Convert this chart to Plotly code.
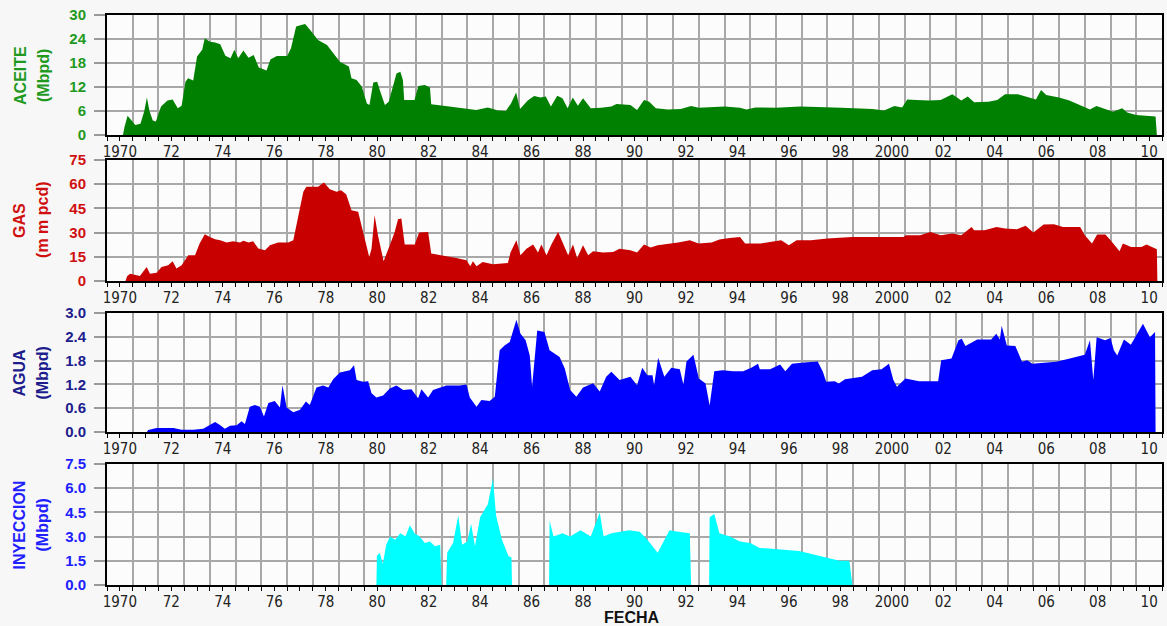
import plotly.graph_objects as go
from plotly.subplots import make_subplots

# fechas en años decimales
aceite_t = [1970.62, 1970.68, 1970.8, 1970.95, 1971.1, 1971.3, 1971.45, 1971.55, 1971.65, 1971.78,
            1971.9, 1972.1, 1972.35, 1972.55, 1972.75, 1972.9, 1973.05, 1973.15, 1973.35, 1973.5,
            1973.7, 1973.8, 1974.0, 1974.2, 1974.4, 1974.6, 1974.8, 1974.95, 1975.1, 1975.3,
            1975.5, 1975.7, 1975.9, 1976.2, 1976.35, 1976.6, 1977.0, 1977.15, 1977.35, 1977.55,
            1977.7, 1977.95, 1978.2, 1978.55, 1978.8, 1979.05, 1979.4, 1979.5, 1979.7, 1979.9,
            1980.1, 1980.2, 1980.35, 1980.5, 1980.6, 1980.8, 1980.95, 1981.1, 1981.25, 1981.4,
            1981.5, 1981.55, 1981.95, 1982.1, 1982.35, 1982.55, 1982.6, 1983.3, 1984.35, 1984.8,
            1985.2, 1985.5, 1985.7, 1985.9, 1986.05, 1986.35, 1986.6, 1986.85, 1987.05, 1987.25,
            1987.5, 1987.7, 1987.9, 1988.1, 1988.3, 1988.5, 1988.8, 1989.2, 1989.6, 1989.8,
            1990.34, 1990.6, 1990.87, 1991.07, 1991.33, 1991.8, 1992.3, 1992.7, 1993.0, 1994.0,
            1994.6, 1994.85, 1995.2, 1996.0, 1996.95, 1998.55, 1999.75, 2000.2, 2000.6, 2000.9,
            2001.1, 2001.45, 2001.95, 2002.4, 2002.85, 2003.2, 2003.45, 2003.7, 2004.25, 2004.6,
            2004.9, 2005.4, 2005.8, 2006.1, 2006.3, 2006.5, 2007.0, 2007.4, 2007.8, 2008.2,
            2008.45, 2008.85, 2009.1, 2009.45, 2009.65, 2010.0, 2010.4, 2010.75, 2010.8]
aceite_v = [0, 2.0, 4.8, 3.5, 2.5, 2.8, 6.0, 9.4, 6.0, 3.6,
            3.4, 7.1, 8.6, 8.9, 6.7, 7.3, 13.3, 14.2, 13.6, 19.6,
            21.3, 24.2, 23.3, 23.1, 22.7, 19.8, 19.2, 21.3, 19.2, 21.1,
            19.3, 20.0, 16.9, 16.1, 18.9, 19.75, 19.75, 21.7, 27.1, 27.5,
            27.75, 25.8, 23.75, 22.5, 20.4, 18.3, 17.1, 14.2, 13.75, 12.1,
            7.9, 7.5, 13.1, 13.3, 11.25, 7.5, 8.3, 11.7, 15.4, 15.8,
            13.75, 8.75, 8.75, 12.25, 12.5, 11.9, 7.7, 7.1, 6.25, 6.9,
            6.1, 6.0, 7.9, 10.6, 6.5, 8.6, 9.75, 9.4, 9.6, 7.1,
            9.8, 9.2, 6.7, 9.4, 7.3, 9.2, 6.7, 6.8, 7.1, 7.75,
            7.5, 6.25, 8.75, 8.3, 6.7, 6.4, 6.5, 7.25, 6.8, 7.1,
            6.8, 6.4, 6.9, 6.8, 7.1, 6.8, 6.5, 6.1, 7.25, 6.9,
            8.9, 8.75, 8.6, 8.75, 10.2, 8.6, 9.6, 8.2, 8.3, 8.75,
            10.2, 10.2, 9.4, 8.9, 11.25, 10.0, 9.4, 8.6, 7.5, 6.4,
            7.25, 6.4, 5.8, 6.7, 5.6, 5.0, 4.75, 4.6, 0]

gas_t = [1970.72, 1970.78, 1970.9, 1971.28, 1971.54, 1971.67, 1971.93, 1972.12, 1972.38, 1972.55,
         1972.7, 1972.9, 1973.16, 1973.42, 1973.6, 1973.8, 1974.0, 1974.2, 1974.4, 1974.65,
         1974.9, 1975.17, 1975.3, 1975.5, 1975.68, 1975.88, 1976.14, 1976.33, 1976.65, 1977.04,
         1977.24, 1977.37, 1977.63, 1977.75, 1978.2, 1978.43, 1978.66, 1978.92, 1979.1, 1979.3,
         1979.5, 1979.76, 1979.95, 1980.19, 1980.28, 1980.4, 1980.53, 1980.75, 1980.99, 1981.18,
         1981.31, 1981.44, 1981.57, 1981.96, 1982.13, 1982.48, 1982.6, 1983.2, 1983.58, 1983.97,
         1984.12, 1984.22, 1984.36, 1984.6, 1985.0, 1985.58, 1985.68, 1985.91, 1986.07, 1986.3,
         1986.56, 1986.75, 1986.88, 1987.08, 1987.27, 1987.53, 1987.72, 1987.92, 1988.11, 1988.27,
         1988.5, 1988.7, 1988.89, 1989.28, 1989.67, 1989.92, 1990.34, 1990.6, 1990.87, 1991.13,
         1991.4, 1992.2, 1992.65, 1992.99, 1993.5, 1993.8, 1994.2, 1994.6, 1994.8, 1995.4,
         1996.2, 1996.5, 1996.8, 1997.35, 1998.0, 1998.95, 2000.95, 2001.05, 2001.6, 2002.0,
         2002.4, 2002.85, 2003.2, 2003.6, 2003.7, 2004.1, 2004.57, 2004.9, 2005.36, 2005.7,
         2006.0, 2006.4, 2006.8, 2007.15, 2007.82, 2008.0, 2008.28, 2008.48, 2008.8, 2009.0,
         2009.35, 2009.48, 2009.8, 2010.2, 2010.4, 2010.8, 2010.82]
gas_v = [0, 3.0, 4.5, 3.1, 8.7, 4.5, 5.2, 8.7, 9.7, 12.2,
         7.7, 9.7, 15.9, 15.9, 23.2, 29.0, 27.3, 25.9, 25.3, 23.8,
         24.6, 23.8, 25.0, 23.8, 24.6, 20.1, 19.0, 22.2, 23.8, 23.8,
         25.3, 34.6, 55.3, 58.4, 58.4, 61.0, 56.9, 55.3, 56.3, 53.6,
         43.9, 42.9, 30.4, 14.9, 20.0, 40.8, 28.4, 12.2, 22.2, 30.4,
         38.3, 38.7, 22.6, 22.6, 30.0, 30.4, 17.0, 15.5, 14.3, 12.8,
         9.1, 12.2, 9.1, 11.8, 10.4, 11.2, 17.6, 25.3, 15.9, 20.0,
         22.6, 17.6, 22.6, 15.9, 22.6, 30.4, 23.8, 15.9, 22.6, 14.3,
         22.2, 15.9, 18.4, 17.6, 18.0, 20.0, 19.0, 17.6, 22.6, 20.7,
         22.2, 23.8, 25.3, 23.2, 23.8, 25.7, 26.7, 27.3, 23.2, 23.2,
         25.3, 22.2, 25.3, 25.3, 26.3, 27.3, 27.3, 28.4, 28.4, 30.4,
         28.4, 29.4, 28.4, 33.5, 31.5, 31.5, 33.5, 32.5, 32.1, 34.2,
         30.0, 35.0, 35.2, 33.5, 33.5, 28.4, 23.2, 28.8, 28.8, 25.3,
         18.4, 23.2, 21.1, 21.1, 22.6, 19.7, 0]

agua_t = [1971.55, 1971.6, 1971.93, 1972.58, 1972.9, 1973.35, 1973.74, 1974.0, 1974.2, 1974.39,
          1974.58, 1974.78, 1975.04, 1975.23, 1975.36, 1975.55, 1975.75, 1975.94, 1976.1, 1976.27,
          1976.52, 1976.72, 1976.82, 1976.98, 1977.24, 1977.5, 1977.73, 1977.88, 1978.14, 1978.4,
          1978.6, 1978.79, 1979.05, 1979.44, 1979.6, 1979.7, 1979.95, 1980.15, 1980.28, 1980.47,
          1980.73, 1980.99, 1981.25, 1981.51, 1981.83, 1982.09, 1982.22, 1982.48, 1982.67, 1983.19,
          1983.71, 1983.97, 1984.1, 1984.36, 1984.55, 1984.87, 1985.07, 1985.26, 1985.45, 1985.65,
          1985.91, 1986.07, 1986.27, 1986.43, 1986.52, 1986.72, 1987.0, 1987.2, 1987.4, 1987.59,
          1987.79, 1988.0, 1988.24, 1988.5, 1988.89, 1989.15, 1989.4, 1989.6, 1989.92, 1990.34,
          1990.6, 1990.8, 1991.0, 1991.2, 1991.26, 1991.42, 1991.66, 1991.93, 1992.26, 1992.4,
          1992.52, 1992.79, 1993.0, 1993.26, 1993.42, 1993.6, 1993.93, 1994.33, 1994.72, 1995.04,
          1995.3, 1995.37, 1995.77, 1996.16, 1996.36, 1996.62, 1997.09, 1997.62, 1997.82, 1997.95,
          1998.28, 1998.44, 1998.68, 1999.34, 1999.74, 2000.1, 2000.39, 2000.56, 2000.7, 2001.03,
          2001.56, 2002.3, 2002.42, 2002.82, 2003.09, 2003.22, 2003.36, 2003.82, 2004.36, 2004.56,
          2004.7, 2004.77, 2004.97, 2005.3, 2005.56, 2005.76, 2005.96, 2006.89, 2007.42, 2007.62,
          2008.0, 2008.2, 2008.33, 2008.46, 2008.79, 2009.0, 2009.13, 2009.26, 2009.52, 2009.79,
          2010.0, 2010.26, 2010.53, 2010.73, 2010.75]
agua_v = [0, 0.05, 0.1, 0.1, 0.06, 0.06, 0.08, 0.18, 0.25, 0.18,
          0.08, 0.16, 0.17, 0.27, 0.2, 0.64, 0.68, 0.64, 0.39, 0.73,
          0.78, 0.62, 1.18, 0.62, 0.5, 0.56, 0.77, 0.68, 1.12, 1.17,
          1.12, 1.33, 1.5, 1.56, 1.68, 1.31, 1.27, 1.28, 0.98, 0.87,
          0.92, 1.1, 1.17, 1.06, 1.08, 0.85, 1.08, 0.87, 1.06, 1.17,
          1.17, 1.2, 0.87, 0.64, 0.81, 0.78, 0.89, 2.06, 2.18, 2.27,
          2.83, 2.48, 2.31, 1.93, 1.14, 2.56, 2.52, 2.06, 1.98, 1.89,
          1.6, 1.06, 0.89, 1.12, 1.23, 1.02, 1.39, 1.52, 1.31, 1.39,
          1.18, 1.62, 1.43, 1.43, 1.18, 1.87, 1.39, 1.62, 1.58, 1.2,
          1.78, 1.95, 1.35, 1.22, 0.67, 1.53, 1.56, 1.53, 1.53, 1.62,
          1.72, 1.58, 1.58, 1.7, 1.53, 1.72, 1.75, 1.78, 1.52, 1.27,
          1.28, 1.22, 1.33, 1.39, 1.56, 1.58, 1.72, 1.31, 1.14, 1.35,
          1.28, 1.28, 1.81, 1.85, 2.31, 2.35, 2.17, 2.33, 2.33, 2.48,
          2.33, 2.68, 2.18, 2.17, 1.77, 1.81, 1.72, 1.77, 1.85, 1.89,
          1.95, 2.31, 1.31, 2.39, 2.31, 2.37, 2.06, 1.93, 2.33, 2.2,
          2.45, 2.73, 2.39, 2.52, 0]

inyeccion_t = [1980.47, 1980.49, 1980.6, 1980.72, 1980.85, 1981.0, 1981.2, 1981.4, 1981.6, 1981.77,
               1981.95, 1982.15, 1982.35, 1982.55, 1982.75, 1982.95, 1983.0, 1983.18, 1983.22, 1983.45,
               1983.65, 1983.8, 1984.0, 1984.15, 1984.3, 1984.5, 1984.8, 1985.0, 1985.12, 1985.35,
               1985.6, 1985.72, 1985.74, 1987.18, 1987.2, 1987.35, 1987.7, 1988.0, 1988.4, 1988.8,
               1989.15, 1989.3, 1989.6, 1990.0, 1990.3, 1990.7, 1991.0, 1991.4, 1991.86, 1992.2,
               1992.65, 1992.7, 1993.4, 1993.42, 1993.6, 1993.8, 1994.2, 1994.6, 1995.0, 1995.36,
               1996.14, 1996.9, 1997.7, 1998.47, 1998.85, 1998.97]
inyeccion_v = [0, 1.8, 2.0, 1.3, 2.5, 3.0, 2.8, 3.2, 3.0, 3.7,
               3.2, 3.0, 2.6, 2.7, 2.4, 2.5, 0, 0, 2.0, 2.6,
               4.3, 2.5, 2.7, 3.8, 2.4, 4.2, 5.0, 6.6, 4.3, 2.8,
               1.8, 1.7, 0, 0, 4.0, 3.0, 3.2, 3.0, 3.4, 3.0,
               4.5, 3.0, 3.2, 3.3, 3.4, 3.3, 2.8, 2.0, 3.4, 3.3,
               3.2, 0, 0, 4.2, 4.4, 3.2, 3.0, 2.7, 2.6, 2.3,
               2.2, 2.1, 1.8, 1.5, 1.5, 0]

year_ticks = [y + 0.5 for y in range(1970, 2011)]
year_text = [("1970" if y == 1970 else "2000" if y == 2000 else f"{y % 100:02d}") if y % 2 == 0 else ""
             for y in range(1970, 2011)]

paneles = [
    # (t, v, relleno, color texto, rango, paso, formato, titulo, unidad)
    (aceite_t, aceite_v, "#008000", "#1f9a1f", 30, 6, "d", "ACEITE", "(Mbpd)"),
    (gas_t, gas_v, "#c80000", "#d01010", 75, 15, "d", "GAS", "(m m pcd)"),
    (agua_t, agua_v, "#0000ff", "#1c1c8c", 3.0, 0.6, ".1f", "AGUA", "(Mbpd)"),
    (inyeccion_t, inyeccion_v, "#00ffff", "#2020ff", 7.5, 1.5, ".1f", "INYECCION", "(Mbpd)"),
]
dominios = [(0.7895, 1.0), (0.5333, 0.7456), (0.2684, 0.4772), (0.0, 0.2123)]
centros = [0.8947, 0.6404, 0.3728, 0.1061]

fig = make_subplots(rows=4, cols=1)

for i, (t, v, relleno, ctexto, ymax, paso, fmt, titulo, unidad) in enumerate(paneles):
    r = i + 1
    fig.add_trace(go.Scatter(x=t, y=v, mode="lines", fill="tozeroy", fillcolor=relleno,
                             line=dict(width=0, color=relleno), hoverinfo="skip"),
                  row=r, col=1)
    fig.update_xaxes(range=[1970, 2011], tickmode="array", tickvals=year_ticks, ticktext=year_text,
                     ticks="outside", ticklen=4, tickcolor="black", showgrid=False, zeroline=False,
                     showline=True, linecolor="black", linewidth=2, mirror=True,
                     ticklabelstandoff=-2,
                     tickfont=dict(family="Liberation Sans Narrow, Arial Narrow, DejaVu Sans Condensed, sans-serif",
                                   size=15, color="#222"),
                     minor=dict(tickmode="linear", tick0=1970, dtick=1, showgrid=True, gridcolor="#a8a8a8",
                                gridwidth=2, ticks="outside", ticklen=4, tickcolor="black"),
                     automargin=False,
                     row=r, col=1)
    fig.update_yaxes(range=[0, ymax], tick0=0, dtick=paso, tickformat=fmt, domain=dominios[i],
                     showgrid=True, gridcolor="#a8a8a8", gridwidth=2, zeroline=False,
                     ticks="outside", ticklen=11, tickcolor="#999", tickwidth=2,
                     showline=True, linecolor="black", linewidth=2, mirror=True,
                     ticklabelstandoff=5, automargin=False,
                     tickfont=dict(family="Liberation Sans, Arial, sans-serif", size=15,
                                   color=ctexto, weight="bold"),
                     row=r, col=1)
    for xp, texto in ((-0.0825, titulo), (-0.0607, unidad)):
        fig.add_annotation(x=xp, y=centros[i], xref="paper", yref="paper", text=texto,
                           textangle=-90, showarrow=False, xanchor="center", yanchor="middle",
                           font=dict(family="Liberation Sans, Arial, sans-serif", size=16,
                                     color=ctexto, weight="bold"))

fig.add_annotation(x=0.4976, y=-0.0575, xref="paper", yref="paper", text="FECHA", showarrow=False,
                   xanchor="center", yanchor="middle",
                   font=dict(family="Liberation Sans, Arial, sans-serif", size=16, color="#111", weight="bold"))

fig.update_layout(
    width=1167, height=626,
    margin=dict(l=107, r=5, t=15, b=41),
    paper_bgcolor="#f7f7f7", plot_bgcolor="#fcfcfc",
    showlegend=False,
)

fig.write_html("out.html", config={"displayModeBar": False},
               post_script="document.body.style.margin='0px';document.body.style.overflow='hidden';")
